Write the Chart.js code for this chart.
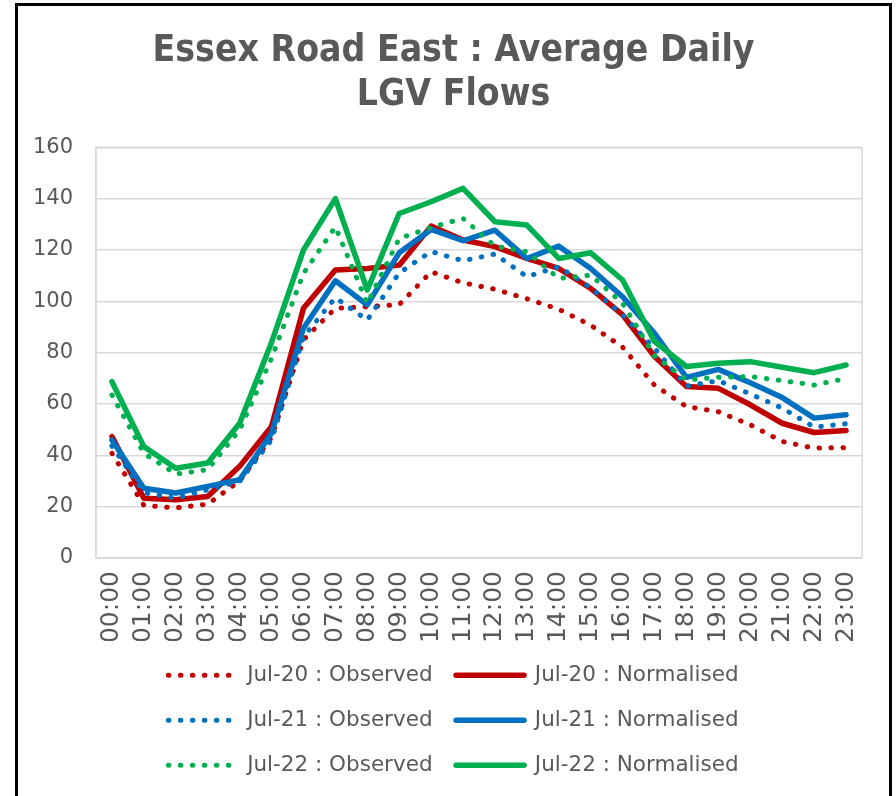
<!DOCTYPE html>
<html>
<head>
<meta charset="utf-8">
<title>Essex Road East : Average Daily LGV Flows</title>
<script src="https://cdn.jsdelivr.net/npm/chart.js@4.4.1/dist/chart.umd.min.js"></script>
<style>
  html, body { margin: 0; padding: 0; background: #fff; overflow: hidden; }
  .frame { position: absolute; left: 15px; top: 3px; width: 871px; height: 800px; border: 3px solid #000; border-bottom: none; }
  .plot { position: absolute; left: 30px; top: 6px; width: 847px; height: 790px; }
</style>
</head>
<body>
<div class="frame"></div>
<div class="plot"><canvas id="flowChart"></canvas></div>
<script>
// hourly LGV counts, July surveys
const hours = ['00:00','01:00','02:00','03:00','04:00','05:00','06:00','07:00','08:00','09:00','10:00','11:00',
               '12:00','13:00','14:00','15:00','16:00','17:00','18:00','19:00','20:00','21:00','22:00','23:00'];

const jul20Observed   = [40.8, 20.5, 19.5, 21.0, 30.0, 47.0, 85.0, 97.3, 97.9, 98.7, 111.5, 107.2, 104.7, 101.0, 96.9, 90.7, 82.1, 67.3, 59.0, 57.0, 51.9, 45.4, 42.8, 43.0];
const jul20Normalised = [47.3, 23.3, 22.7, 24.0, 35.7, 51.2, 97.3, 112.2, 112.8, 114.1, 129.3, 123.9, 121.3, 116.7, 112.8, 105.0, 94.7, 78.5, 66.8, 66.1, 59.7, 52.5, 48.9, 49.7];
const jul21Observed   = [43.7, 25.5, 23.3, 26.6, 29.8, 46.0, 86.2, 101.4, 92.7, 111.1, 119.4, 115.8, 118.4, 109.6, 113.5, 105.3, 94.7, 81.7, 67.0, 69.1, 63.9, 58.4, 51.0, 52.3];
const jul21Normalised = [46.0, 27.2, 25.3, 27.9, 30.5, 48.6, 89.5, 108.0, 98.6, 118.9, 128.0, 123.6, 127.7, 116.7, 121.5, 112.8, 101.8, 87.5, 70.4, 73.5, 68.3, 62.5, 54.5, 55.8];
const jul22Observed   = [63.5, 40.8, 32.7, 34.4, 49.9, 77.8, 110.9, 129.0, 99.2, 124.5, 128.8, 132.3, 121.5, 119.3, 108.9, 110.2, 99.2, 78.7, 69.4, 70.4, 70.7, 69.1, 67.4, 69.9];
const jul22Normalised = [68.7, 43.4, 35.0, 37.0, 52.5, 84.0, 120.0, 140.0, 104.4, 134.2, 138.8, 144.0, 131.0, 129.7, 116.7, 118.9, 108.3, 84.3, 74.6, 75.9, 76.5, 74.3, 72.2, 75.2];

const yTicks = [0, 20, 40, 60, 80, 100, 120, 140, 160];

const RED = '#C00000', BLUE = '#0070C0', GREEN = '#00B050';
const GREY = '#595959', GRID = '#d9d9d9';

Chart.defaults.font.family = "'DejaVu Sans', sans-serif";
Chart.defaults.color = GREY;

function observed(label, data, color) {
  return { label, data, borderColor: color, backgroundColor: color, borderWidth: 5,
    borderDash: [0.5, 11.5], borderCapStyle: 'round', borderJoinStyle: 'round' };
}
function normalised(label, data, color) {
  return { label, data, borderColor: color, backgroundColor: color, borderWidth: 5.5,
    borderCapStyle: 'round', borderJoinStyle: 'round' };
}

const datasets = [
  observed('Jul-20 : Observed', jul20Observed, RED),
  normalised('Jul-20 : Normalised', jul20Normalised, RED),
  observed('Jul-21 : Observed', jul21Observed, BLUE),
  normalised('Jul-21 : Normalised', jul21Normalised, BLUE),
  observed('Jul-22 : Observed', jul22Observed, GREEN),
  normalised('Jul-22 : Normalised', jul22Normalised, GREEN)
];
// later series sit on top
datasets.forEach((ds, i) => { ds.order = datasets.length - i; });

// light grey box round the plot area
const plotFrame = {
  id: 'plotFrame',
  beforeDatasetsDraw(chart) {
    const { ctx, chartArea: { left, top, right, bottom } } = chart;
    ctx.save();
    ctx.strokeStyle = GRID;
    ctx.lineWidth = 1.5;
    ctx.strokeRect(left, top, right - left, bottom - top);
    ctx.restore();
  }
};

new Chart(document.getElementById('flowChart'), {
  type: 'line',
  data: { labels: hours, datasets },
  plugins: [plotFrame],
  options: {
    responsive: true, maintainAspectRatio: false, animation: false,
    layout: { padding: { left: 3, right: 3, top: 0, bottom: 10 } },
    elements: { point: { radius: 0, hoverRadius: 0 }, line: { tension: 0 } },
    plugins: {
      tooltip: { enabled: false },
      title: {
        display: true,
        text: ['Essex Road East : Average Daily', 'LGV Flows'],
        color: GREY,
        font: { family: "'DejaVu Sans Condensed', 'DejaVu Sans', sans-serif", weight: 'bold', size: 37, lineHeight: 1.18 },
        padding: { top: 24, bottom: 30 }
      },
      legend: {
        position: 'bottom',
        labels: {
          usePointStyle: true,
          pointStyleWidth: 68,
          padding: 23.5,
          color: GREY,
          font: { size: 21.5 },
          generateLabels: (chart) => chart.data.datasets.map((ds, i) => ({
            text: ds.label,
            datasetIndex: i,
            fillStyle: ds.borderColor,
            strokeStyle: ds.borderColor,
            lineWidth: ds.borderWidth,
            lineDash: ds.borderDash || [],
            lineCap: 'round',
            pointStyle: 'line',
            fontColor: GREY,
            hidden: !chart.isDatasetVisible(i)
          }))
        }
      }
    },
    scales: {
      x: {
        offset: true,
        // tick marks hidden, tickLength only spaces the labels off the axis
        grid: { display: false, drawTicks: true, tickLength: 13 },
        border: { display: false },
        afterFit: (scale) => { scale.height = 83; },
        ticks: { autoSkip: false, minRotation: 90, maxRotation: 90, padding: 0, color: GREY, font: { size: 25 } }
      },
      y: {
        min: 0, max: 160,
        afterFit: (scale) => { scale.width = 63; },
        afterBuildTicks: (scale) => { scale.ticks = yTicks.map(v => ({ value: v })); },
        grid: { color: GRID, lineWidth: 1.5, drawTicks: false },
        border: { display: true, color: GRID, width: 1.5 },
        ticks: { padding: 23, color: GREY, font: { size: 21 } }
      },
      // empty strip on the right so the plot sits inside the frame
      yRight: {
        type: 'linear', position: 'right', display: true,
        grid: { display: false, drawTicks: false },
        border: { display: false },
        ticks: { display: false },
        afterFit: (scale) => { scale.width = 12; }
      }
    }
  }
});
</script>
</body>
</html>
